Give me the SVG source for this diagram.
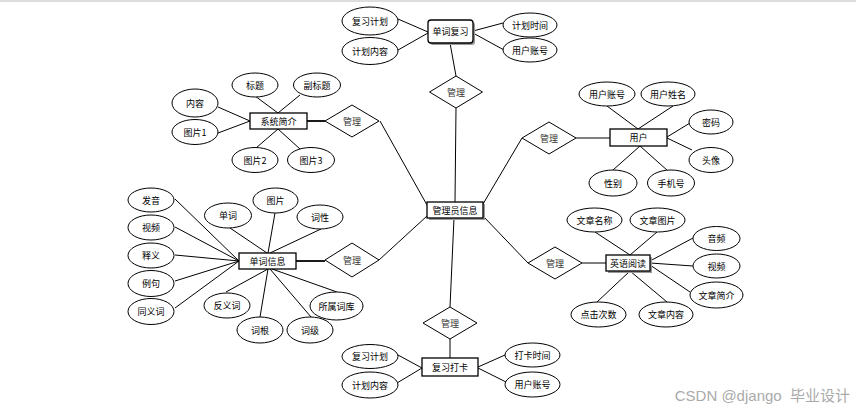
<svg xmlns="http://www.w3.org/2000/svg" width="856" height="410" viewBox="0 0 856 410">
<defs>
<style>
.e{fill:#fff;stroke:#000;stroke-width:1}
.r{fill:#fff;stroke:#000;stroke-width:1.3}
.d{fill:#fff;stroke:#000;stroke-width:1}
.s{fill:#999;stroke:none}
.l{stroke:#000;stroke-width:1;fill:none}
.lt{stroke:#000;stroke-width:1.8;fill:none}
text{font-family:"Noto Sans CJK SC","Liberation Sans",sans-serif;font-size:9px;fill:#000;text-anchor:middle;dominant-baseline:central}
.dm{fill:#333}
</style>
</defs>
<rect x="0" y="0" width="856" height="410" fill="#fff"/>
<line x1="0" y1="1" x2="856" y2="1" stroke="#ddd" stroke-width="2"/>

<g id="connectors">
<line class="l" x1="398" y1="19" x2="428" y2="32"/>
<line class="l" x1="398" y1="50" x2="428" y2="33"/>
<line class="l" x1="473" y1="31" x2="503" y2="23"/>
<line class="l" x1="473" y1="33" x2="504" y2="50"/>
<line class="l" x1="450" y1="43" x2="456" y2="76"/>
<line class="l" x1="456" y1="108" x2="455" y2="202"/>
<line class="l" x1="255" y1="96" x2="278" y2="113"/>
<line class="l" x1="300" y1="95" x2="278" y2="113"/>
<line class="l" x1="218" y1="107" x2="250" y2="121"/>
<line class="l" x1="218" y1="133" x2="250" y2="121"/>
<line class="l" x1="256" y1="148" x2="278" y2="129"/>
<line class="l" x1="300" y1="149" x2="278" y2="129"/>
<line class="lt" x1="307" y1="121" x2="325" y2="121"/>
<line class="l" x1="380" y1="121" x2="427" y2="205"/>
<line class="l" x1="607" y1="106" x2="638" y2="129"/>
<line class="l" x1="673" y1="106" x2="638" y2="129"/>
<line class="l" x1="690" y1="123" x2="667" y2="137"/>
<line class="l" x1="692" y1="150" x2="667" y2="138"/>
<line class="l" x1="613" y1="170" x2="640" y2="146"/>
<line class="l" x1="668" y1="171" x2="640" y2="146"/>
<line class="l" x1="576" y1="138" x2="610" y2="138"/>
<line class="l" x1="522" y1="138" x2="483" y2="204"/>
<line class="l" x1="175" y1="199" x2="239" y2="261"/>
<line class="l" x1="175" y1="227" x2="239" y2="261"/>
<line class="l" x1="175" y1="255" x2="239" y2="261"/>
<line class="l" x1="175" y1="281" x2="239" y2="261"/>
<line class="l" x1="175" y1="308" x2="239" y2="261"/>
<line class="l" x1="230" y1="228" x2="267" y2="253"/>
<line class="l" x1="275" y1="213" x2="268" y2="253"/>
<line class="l" x1="321" y1="229" x2="270" y2="253"/>
<line class="l" x1="226" y1="292" x2="268" y2="269"/>
<line class="l" x1="260" y1="317" x2="268" y2="269"/>
<line class="l" x1="311" y1="317" x2="270" y2="269"/>
<line class="l" x1="337" y1="292" x2="272" y2="269"/>
<line class="lt" x1="296" y1="261" x2="325" y2="261"/>
<line class="l" x1="379" y1="260" x2="427" y2="216"/>
<line class="l" x1="595" y1="232" x2="630" y2="255"/>
<line class="l" x1="657" y1="232" x2="630" y2="255"/>
<line class="l" x1="693" y1="238" x2="650" y2="261"/>
<line class="l" x1="693" y1="266" x2="650" y2="263"/>
<line class="l" x1="690" y1="292" x2="650" y2="265"/>
<line class="l" x1="597" y1="302" x2="630" y2="271"/>
<line class="l" x1="667" y1="302" x2="630" y2="271"/>
<line class="l" x1="582" y1="263" x2="606" y2="263"/>
<line class="l" x1="528" y1="263" x2="483" y2="216"/>
<line class="l" x1="454" y1="218" x2="450" y2="307"/>
<line class="l" x1="450" y1="339" x2="450" y2="358"/>
<line class="l" x1="398" y1="355" x2="422" y2="368"/>
<line class="l" x1="397" y1="383" x2="422" y2="368"/>
<line class="l" x1="505" y1="355" x2="478" y2="367"/>
<line class="l" x1="506" y1="382" x2="478" y2="368"/>
</g>

<g id="n-admin">
<rect class="s" x="429" y="204" width="56" height="16"/>
<rect class="r" x="427" y="202" width="56" height="16"/>
<text x="455" y="210">管理员信息</text>
</g>

<g id="n-review">
<rect class="s" x="430" y="22" width="45" height="23" rx="3"/>
<rect class="r" x="428" y="20" width="45" height="23" rx="3"/>
<text x="450.5" y="31.5">单词复习</text>
</g>
<g id="a-review-plan"><ellipse class="e" cx="370" cy="21" rx="28" ry="14"/><text x="370" y="21">复习计划</text></g>
<g id="a-review-content"><ellipse class="e" cx="370" cy="51" rx="28" ry="13.5"/><text x="370" y="51">计划内容</text></g>
<g id="a-review-time"><ellipse class="e" cx="530" cy="25" rx="27" ry="12"/><text x="530" y="25">计划时间</text></g>
<g id="a-review-account"><ellipse class="e" cx="530" cy="50" rx="27" ry="12"/><text x="530" y="50">用户账号</text></g>
<g id="r-top"><polygon class="d" points="456,76 482.5,92 456,108 429.5,92"/><text class="dm" x="456" y="92">管理</text></g>

<g id="n-intro">
<rect class="r" x="250" y="113" width="57" height="16"/>
<text x="278.5" y="121">系统简介</text>
</g>
<g id="a-title"><ellipse class="e" cx="255" cy="85" rx="23" ry="12"/><text x="255" y="85">标题</text></g>
<g id="a-subtitle"><ellipse class="e" cx="317" cy="85" rx="23.5" ry="12"/><text x="317" y="85">副标题</text></g>
<g id="a-content"><ellipse class="e" cx="195" cy="103" rx="23" ry="14"/><text x="195" y="103">内容</text></g>
<g id="a-pic1"><ellipse class="e" cx="195" cy="132" rx="23" ry="12.5"/><text x="195" y="132">图片1</text></g>
<g id="a-pic2"><ellipse class="e" cx="255" cy="160" rx="23" ry="12.5"/><text x="255" y="160">图片2</text></g>
<g id="a-pic3"><ellipse class="e" cx="311" cy="160" rx="23.5" ry="12.5"/><text x="311" y="160">图片3</text></g>
<g id="r-intro"><polygon class="d" points="352,105 379,121 352,137 325,121"/><text class="dm" x="352" y="121">管理</text></g>

<g id="n-user">
<rect class="r" x="610" y="129" width="57" height="17"/>
<text x="638.5" y="137.5">用户</text>
</g>
<g id="a-u-account"><ellipse class="e" cx="607" cy="94" rx="28" ry="12"/><text x="607" y="94">用户账号</text></g>
<g id="a-u-name"><ellipse class="e" cx="668" cy="94" rx="27" ry="12"/><text x="668" y="94">用户姓名</text></g>
<g id="a-u-pwd"><ellipse class="e" cx="711" cy="122" rx="22" ry="12"/><text x="711" y="122">密码</text></g>
<g id="a-u-avatar"><ellipse class="e" cx="711" cy="160" rx="22" ry="12.5"/><text x="711" y="160">头像</text></g>
<g id="a-u-sex"><ellipse class="e" cx="613" cy="183" rx="24" ry="13"/><text x="613" y="183">性别</text></g>
<g id="a-u-phone"><ellipse class="e" cx="671" cy="183" rx="23.5" ry="13"/><text x="671" y="183">手机号</text></g>
<g id="r-user"><polygon class="d" points="549,122 576,138 549,154 522,138"/><text class="dm" x="549" y="138">管理</text></g>

<g id="n-word">
<rect class="r" x="239" y="253" width="57" height="16"/>
<text x="267.5" y="261">单词信息</text>
</g>
<g id="a-w-sound"><ellipse class="e" cx="151" cy="200" rx="23" ry="12"/><text x="151" y="200">发音</text></g>
<g id="a-w-video"><ellipse class="e" cx="151" cy="227.5" rx="23" ry="12.5"/><text x="151" y="227.5">视频</text></g>
<g id="a-w-mean"><ellipse class="e" cx="151" cy="255.5" rx="23" ry="12.5"/><text x="151" y="255.5">释义</text></g>
<g id="a-w-example"><ellipse class="e" cx="151" cy="283.5" rx="23" ry="13"/><text x="151" y="283.5">例句</text></g>
<g id="a-w-syn"><ellipse class="e" cx="151" cy="311.5" rx="23" ry="13"/><text x="151" y="311.5">同义词</text></g>
<g id="a-w-word"><ellipse class="e" cx="228" cy="215.5" rx="23.5" ry="12.5"/><text x="228" y="215.5">单词</text></g>
<g id="a-w-pic"><ellipse class="e" cx="275.5" cy="200.5" rx="22.5" ry="12.5"/><text x="275.5" y="200.5">图片</text></g>
<g id="a-w-pos"><ellipse class="e" cx="320" cy="217" rx="23" ry="12"/><text x="320" y="217">词性</text></g>
<g id="a-w-ant"><ellipse class="e" cx="227" cy="305.5" rx="23" ry="12.5"/><text x="227" y="305.5">反义词</text></g>
<g id="a-w-root"><ellipse class="e" cx="260" cy="330" rx="23" ry="13"/><text x="260" y="330">词根</text></g>
<g id="a-w-level"><ellipse class="e" cx="310" cy="330" rx="23" ry="13"/><text x="310" y="330">词级</text></g>
<g id="a-w-lib"><ellipse class="e" cx="336.5" cy="306" rx="26.5" ry="14"/><text x="336.5" y="306">所属词库</text></g>
<g id="r-word"><polygon class="d" points="352,243 379,260 352,277 325,260"/><text class="dm" x="352" y="260">管理</text></g>

<g id="n-read">
<rect class="s" x="608" y="257" width="44" height="16"/>
<rect class="r" x="606" y="255" width="44" height="16"/>
<text x="628" y="263">英语阅读</text>
</g>
<g id="a-r-name"><ellipse class="e" cx="594.5" cy="220" rx="27.5" ry="12"/><text x="594.5" y="220">文章名称</text></g>
<g id="a-r-pic"><ellipse class="e" cx="657.5" cy="220" rx="27.5" ry="12"/><text x="657.5" y="220">文章图片</text></g>
<g id="a-r-audio"><ellipse class="e" cx="716.5" cy="238.5" rx="23.5" ry="12"/><text x="716.5" y="238.5">音频</text></g>
<g id="a-r-video"><ellipse class="e" cx="716.5" cy="266" rx="23.5" ry="12"/><text x="716.5" y="266">视频</text></g>
<g id="a-r-intro"><ellipse class="e" cx="716.5" cy="295" rx="26.5" ry="13"/><text x="716.5" y="295">文章简介</text></g>
<g id="a-r-clicks"><ellipse class="e" cx="598.5" cy="314.5" rx="27.5" ry="12.5"/><text x="598.5" y="314.5">点击次数</text></g>
<g id="a-r-content"><ellipse class="e" cx="666" cy="314.5" rx="27" ry="12.5"/><text x="666" y="314.5">文章内容</text></g>
<g id="r-read"><polygon class="d" points="555,247 582,263 555,279 528,263"/><text class="dm" x="555" y="263">管理</text></g>

<g id="n-checkin">
<rect class="r" x="422" y="358" width="56" height="18"/>
<text x="450" y="367">复习打卡</text>
</g>
<g id="a-c-plan"><ellipse class="e" cx="370" cy="356.5" rx="28" ry="12"/><text x="370" y="356.5">复习计划</text></g>
<g id="a-c-content"><ellipse class="e" cx="370" cy="385" rx="28" ry="13"/><text x="370" y="385">计划内容</text></g>
<g id="a-c-time"><ellipse class="e" cx="532.5" cy="355" rx="27.5" ry="12"/><text x="532.5" y="355">打卡时间</text></g>
<g id="a-c-account"><ellipse class="e" cx="532.5" cy="384.5" rx="27.5" ry="12.5"/><text x="532.5" y="384.5">用户账号</text></g>
<g id="r-checkin"><polygon class="d" points="450,307 477,323 450,339 423,323"/><text class="dm" x="450" y="323">管理</text></g>

<text x="850" y="395" xml:space="preserve" style="font-size:15px;fill:#aaa;text-anchor:end;white-space:pre;font-family:'Liberation Sans','Noto Sans CJK SC',sans-serif">CSDN @django  毕业设计</text>
</svg>
